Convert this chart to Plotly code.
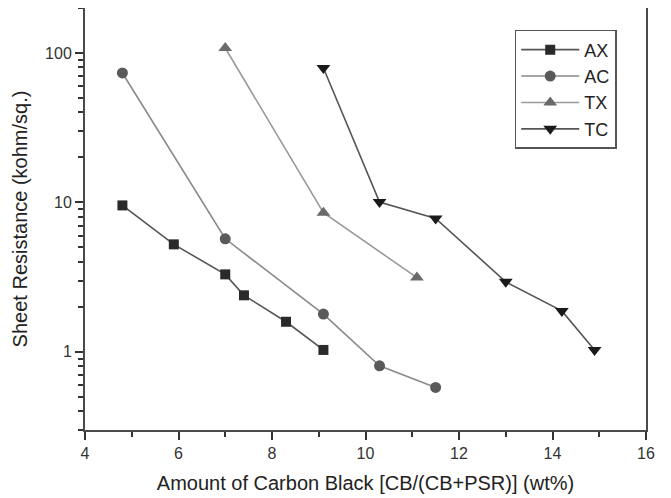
import plotly.graph_objects as go

ax_x = [4.8, 5.9, 7.0, 7.4, 8.3, 9.1]
ax_y = [9.55, 5.24, 3.30, 2.39, 1.59, 1.03]
ac_x = [4.8, 7.0, 9.1, 10.3, 11.5]
ac_y = [73.5, 5.71, 1.79, 0.806, 0.578]
tx_x = [7.0, 9.1, 11.1]
tx_y = [108, 8.53, 3.14]
tc_x = [9.1, 10.3, 11.5, 13.0, 14.2, 14.9]
tc_y = [79.4, 10.05, 7.82, 2.94, 1.88, 1.03]

series_names = ["AX", "AC", "TX", "TC"]
y_tickvals = [1, 10, 100]
y_ticktext = ["1", "10", "100"]
y_minor = [0.3, 0.4, 0.5, 0.6, 0.7, 0.8, 0.9, 2, 3, 4, 5, 6, 7, 8, 9,
           20, 30, 40, 50, 60, 70, 80, 90, 200]
x_minor = [5, 7, 9, 11, 13, 15]

FONT = "Liberation Sans, Arial, sans-serif"

fig = go.Figure()
styles = [
    (ax_x, ax_y, "square", "#2a2a2a", "#555555", 10),
    (ac_x, ac_y, "circle", "#5a5a5a", "#8a8a8a", 11),
    (tx_x, tx_y, "triangle-up", "#6a6a6a", "#9a9a9a", 12),
    (tc_x, tc_y, "triangle-down", "#1a1a1a", "#555555", 12),
]
for name, (xs, ys, sym, mc, lc, ms) in zip(series_names, styles):
    fig.add_trace(go.Scatter(
        x=xs, y=ys, name=name, mode="lines+markers",
        line=dict(color=lc, width=1.6),
        marker=dict(symbol=sym, color=mc, size=ms),
    ))

axis_common = dict(
    showline=True, linecolor="#4a4a4a", linewidth=2, mirror=True,
    showgrid=False, zeroline=False, ticks="outside", tickcolor="#333333",
    tickwidth=2, ticklen=8, automargin=False,
    tickfont=dict(family=FONT, size=16, color="#333333"),
)

fig.update_xaxes(
    range=[4, 16], tickmode="linear", dtick=2, tick0=4,
    minor=dict(ticks="outside", tickmode="array", tickvals=x_minor,
               ticklen=5, tickwidth=2, tickcolor="#333333"),
    title=dict(text="Amount of Carbon Black [CB/(CB+PSR)] (wt%)",
               font=dict(family=FONT, size=20, color="#222222"),
               standoff=15),
    **axis_common,
)
fig.update_yaxes(
    type="log", range=[-0.5229, 2.301],
    tickmode="array", tickvals=y_tickvals, ticktext=y_ticktext,
    minor=dict(ticks="outside", tickmode="array", tickvals=y_minor,
               ticklen=5, tickwidth=2, tickcolor="#333333"),
    title=dict(text="Sheet Resistance (kohm/sq.)",
               font=dict(family=FONT, size=20, color="#222222"),
               standoff=12),
    **axis_common,
)

fig.update_layout(
    width=671, height=498,
    margin=dict(l=77, r=33, t=0, b=76),
    paper_bgcolor="white", plot_bgcolor="white",
    legend=dict(
        x=0.766, y=0.948, xanchor="left", yanchor="top",
        bordercolor="#555555", borderwidth=1.5, bgcolor="white",
        font=dict(family=FONT, size=18, color="#222222"),
        tracegroupgap=0, itemwidth=58,
    ),
)

fig.write_html("out.html")
